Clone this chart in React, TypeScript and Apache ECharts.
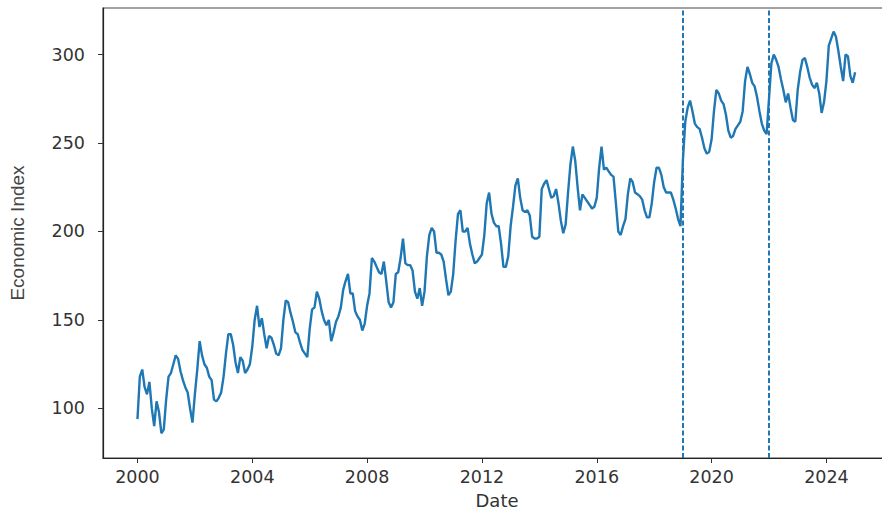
import React, { useEffect, useRef } from "react";
import * as echarts from "echarts";

// Monthly values, Jan 2000 .. Jan 2025
const startYear = 2000;
const values2000s = [
  94, 118, 122, 112, 108, 115, 100, 90, 104, 98, 86, 88,
  105, 118, 120, 125, 130, 128, 121, 116, 112, 109, 100, 92,
  108, 122, 138, 130, 125, 123, 118, 116, 105, 104, 106, 109,
  118, 131, 142, 142, 136, 126, 120, 129, 127, 120, 122, 125,
  135, 150, 158, 146, 151, 142, 134, 141, 140, 136, 131, 130,
  134, 150, 161, 160, 154, 149, 143, 142, 137, 133, 131, 129,
  145, 156, 157, 166, 162, 155, 150, 147, 150, 138, 143, 149,
  152, 157, 167, 172, 176, 165, 165, 155, 152, 150, 144, 148,
  158, 165, 185, 183, 180, 177, 176, 183, 172, 160, 157, 160,
  176, 177, 185, 196, 182, 181, 181, 178, 166, 162, 168, 158,
];
const values2010s = [
  166, 186, 198, 202, 200, 188, 188, 187, 183, 173, 164, 166,
  176, 195, 210, 212, 200, 200, 202, 193, 187, 182, 183, 185,
  187, 198, 216, 222, 210, 205, 203, 203, 193, 180, 180, 186,
  203, 214, 226, 230, 219, 212, 211, 212, 209, 197, 196, 196,
  197, 224, 227, 229, 224, 219, 220, 224, 216, 206, 199, 204,
  222, 238, 248, 240, 225, 212, 221, 219, 217, 215, 213, 214,
  219, 236, 248, 235, 236, 234, 232, 231, 216, 200, 198, 203,
  207, 221, 230, 228, 222, 221, 220, 218, 212, 208, 208, 216,
  228, 236, 236, 232, 225, 222, 222, 222, 218, 213, 207, 203,
  240, 262, 270, 274, 268, 261, 259, 258, 253, 247, 244, 245,
];
const values2020s = [
  252, 268, 280, 278, 274, 272, 266, 257, 253, 254, 258, 260,
  262, 268, 285, 293, 289, 284, 282, 276, 268, 261, 257, 255,
  275, 295, 300, 297, 293, 286, 280, 273, 278, 270, 263, 262,
  280, 290, 297, 298, 293, 287, 283, 281, 284, 278, 267, 273,
  285, 305, 309, 313, 310, 302, 293, 285, 300, 299, 288, 284,
  290,
];
const xTickYears = [2000, 2004, 2008, 2012, 2016, 2020, 2024];
const yTickValues = [100, 150, 200, 250, 300];
const markerYears = [2019, 2022];

const allValues = [...values2000s, ...values2010s, ...values2020s];
const seriesData = allValues.map((v, i) => [startYear + i / 12, v]);

export default function App() {
  const ref = useRef<HTMLDivElement>(null);
  useEffect(() => {
    if (!ref.current) return;
    const chart = echarts.init(ref.current, null, { renderer: "svg" });
    const labelColor = "#333";
    chart.setOption({
      animation: false,
      backgroundColor: "#fff",
      grid: {
        left: 100.5,
        right: 3,
        top: 8,
        bottom: 52,
        show: true,
        borderColor: "#444",
        borderWidth: 1.2,
        backgroundColor: "transparent",
      },
      xAxis: {
        type: "value",
        min: 1998.8,
        max: 2026.25,
        name: "Date",
        nameLocation: "middle",
        nameGap: 33,
        nameTextStyle: { fontFamily: "DejaVu Sans", fontSize: 18, color: labelColor },
        axisLine: { show: true, lineStyle: { color: "#222", width: 1.2 } },
        axisTick: { show: true, length: 5, customValues: xTickYears, lineStyle: { color: "#333" } },
        axisLabel: {
          customValues: xTickYears,
          formatter: (v: number) => String(Math.round(v)),
          fontFamily: "DejaVu Sans",
          fontSize: 17.5,
          color: labelColor,
          margin: 10,
        },
        splitLine: { show: false },
      },
      yAxis: {
        type: "value",
        min: 72,
        max: 326.3,
        name: "Economic Index",
        nameLocation: "middle",
        nameGap: 76,
        nameRotate: 90,
        nameTextStyle: { fontFamily: "Liberation Sans", fontSize: 19, color: "#444" },
        axisLine: { show: true, lineStyle: { color: "#222", width: 1.2 } },
        axisTick: { show: true, length: 5, customValues: yTickValues, lineStyle: { color: "#333" } },
        axisLabel: {
          customValues: yTickValues,
          fontFamily: "DejaVu Sans",
          fontSize: 17.5,
          color: labelColor,
          margin: 18,
        },
        splitLine: { show: false },
      },
      series: [
        {
          type: "line",
          data: seriesData,
          showSymbol: false,
          lineStyle: { color: "#1f77b4", width: 2.4 },
          itemStyle: { color: "#1f77b4" },
          markLine: {
            silent: true,
            symbol: ["none", "none"],
            label: { show: false },
            lineStyle: { color: "#1f77b4", type: [5, 2.5], width: 2 },
            data: markerYears.map((y) => ({ xAxis: y })),
          },
        },
      ],
    });
    return () => chart.dispose();
  }, []);
  return (
    <div
      ref={ref}
      style={{ position: "fixed", left: 0, top: 0, width: 894, height: 514, background: "#fff" }}
    />
  );
}
